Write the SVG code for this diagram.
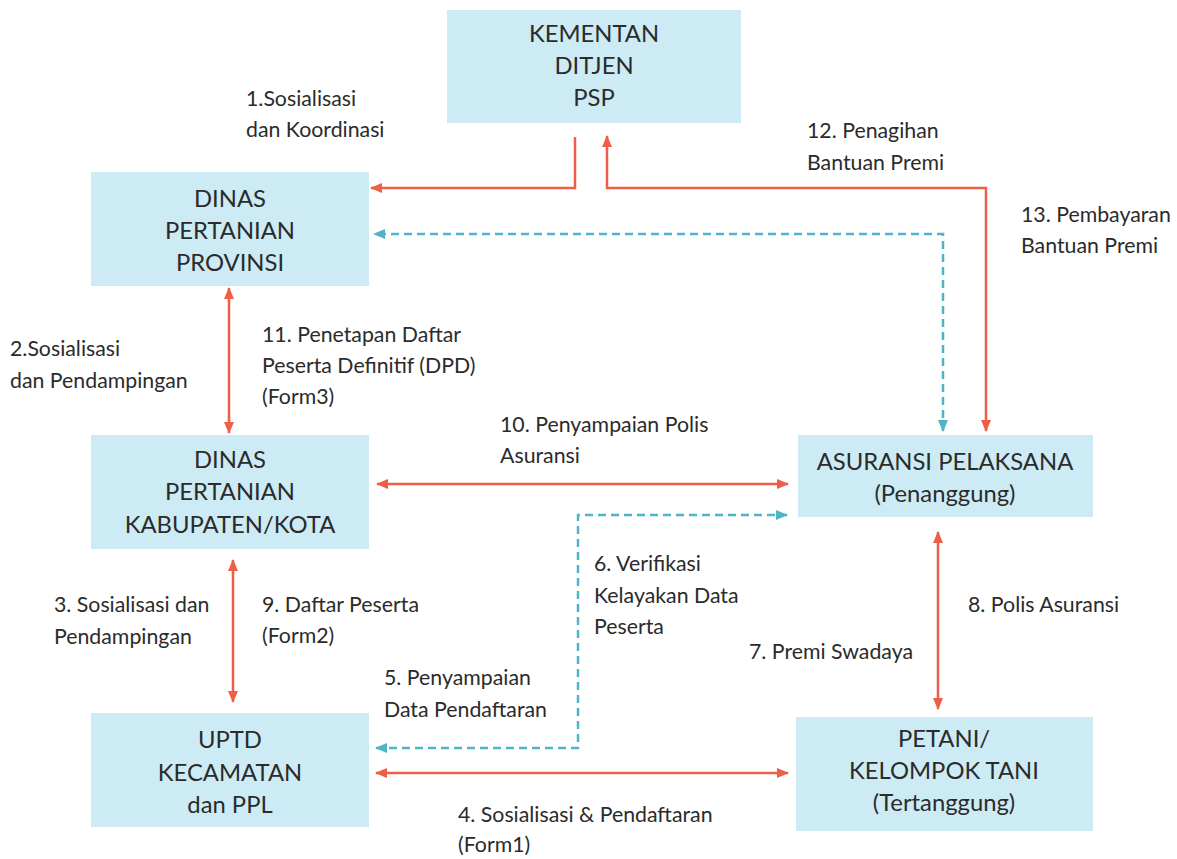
<svg xmlns="http://www.w3.org/2000/svg" width="1177" height="859" viewBox="0 0 1177 859">
<style>
.box{fill:#CDEBF5}
.bt{font-family:Lato,"Noto Sans",sans-serif;font-size:23.8px;fill:#2b2b2b;text-anchor:middle}
.lb{font-family:Lato,"Noto Sans",sans-serif;font-size:21.3px;fill:#2b2b2b}
.red{fill:none;stroke:#EF5F47;stroke-width:2.5;marker-start:url(#ar);marker-end:url(#ar)}
.red1{fill:none;stroke:#EF5F47;stroke-width:2.5;marker-end:url(#ar)}
.teal{fill:none;stroke:#4DB5C6;stroke-width:2.5;stroke-dasharray:8 5;marker-start:url(#at);marker-end:url(#at)}
</style>
<defs>
<marker id="ar" markerUnits="userSpaceOnUse" markerWidth="12" markerHeight="10" viewBox="0 0 12 10" refX="11" refY="5" orient="auto-start-reverse"><path d="M0,0 L12,5 L0,10 z" fill="#EF5F47"/></marker>
<marker id="at" markerUnits="userSpaceOnUse" markerWidth="12" markerHeight="10" viewBox="0 0 12 10" refX="11" refY="5" orient="auto-start-reverse"><path d="M0,0 L12,5 L0,10 z" fill="#4DB5C6"/></marker>
</defs>
<rect width="1177" height="859" fill="#ffffff"/>
<g id="connectors">
<path class="red1" d="M575,137 V188 H371"/>
<path class="red" d="M607,136 V188 H986 V431"/>
<path class="teal" d="M943,431 V234 H374"/>
<path class="red" d="M229,288 V433"/>
<path class="red" d="M233,560 V702"/>
<path class="red" d="M377,484 H788"/>
<path class="red" d="M376,773 H788"/>
<path class="teal" d="M376,748 H578 V515 H787"/>
<path class="red" d="M938,532 V709"/>
</g>
<g id="kementan">
<rect class="box" x="447" y="10" width="294" height="113"/>
<text class="bt" x="594" y="42">KEMENTAN</text>
<text class="bt" x="594" y="74">DITJEN</text>
<text class="bt" x="594" y="106">PSP</text>
</g>
<g id="dinas-provinsi">
<rect class="box" x="91" y="172" width="278" height="114"/>
<text class="bt" x="230" y="207">DINAS</text>
<text class="bt" x="230" y="239">PERTANIAN</text>
<text class="bt" x="230" y="271">PROVINSI</text>
</g>
<g id="dinas-kabupaten">
<rect class="box" x="91" y="435" width="278" height="114"/>
<text class="bt" x="230" y="468">DINAS</text>
<text class="bt" x="230" y="500">PERTANIAN</text>
<text class="bt" x="230" y="533">KABUPATEN/KOTA</text>
</g>
<g id="uptd">
<rect class="box" x="91" y="713" width="278" height="114"/>
<text class="bt" x="230" y="748">UPTD</text>
<text class="bt" x="230" y="781">KECAMATAN</text>
<text class="bt" x="230" y="813">dan PPL</text>
</g>
<g id="asuransi">
<rect class="box" x="798" y="435" width="295" height="82"/>
<text class="bt" x="945" y="470">ASURANSI PELAKSANA</text>
<text class="bt" x="945" y="502">(Penanggung)</text>
</g>
<g id="petani">
<rect class="box" x="796" y="717" width="297" height="114"/>
<text class="bt" x="944" y="747">PETANI/</text>
<text class="bt" x="944" y="779">KELOMPOK TANI</text>
<text class="bt" x="944" y="811">(Tertanggung)</text>
</g>
<g id="labels">
<text class="lb" x="246" y="106">1.Sosialisasi</text>
<text class="lb" x="246" y="137">dan Koordinasi</text>
<text class="lb" x="807" y="138">12. Penagihan</text>
<text class="lb" x="807" y="170">Bantuan Premi</text>
<text class="lb" x="1021" y="222">13. Pembayaran</text>
<text class="lb" x="1021" y="253">Bantuan Premi</text>
<text class="lb" x="10" y="356">2.Sosialisasi</text>
<text class="lb" x="10" y="388">dan Pendampingan</text>
<text class="lb" x="262" y="342">11. Penetapan Daftar</text>
<text class="lb" x="262" y="373">Peserta Definitif (DPD)</text>
<text class="lb" x="262" y="404">(Form3)</text>
<text class="lb" x="500" y="432">10. Penyampaian Polis</text>
<text class="lb" x="500" y="463">Asuransi</text>
<text class="lb" x="594" y="571">6. Verifikasi</text>
<text class="lb" x="594" y="603">Kelayakan Data</text>
<text class="lb" x="594" y="634">Peserta</text>
<text class="lb" x="54" y="612">3. Sosialisasi dan</text>
<text class="lb" x="54" y="644">Pendampingan</text>
<text class="lb" x="262" y="612">9. Daftar Peserta</text>
<text class="lb" x="262" y="643">(Form2)</text>
<text class="lb" x="968" y="612">8. Polis Asuransi</text>
<text class="lb" x="749" y="659">7. Premi Swadaya</text>
<text class="lb" x="384" y="685">5. Penyampaian</text>
<text class="lb" x="384" y="717">Data Pendaftaran</text>
<text class="lb" x="458" y="822">4. Sosialisasi &amp; Pendaftaran</text>
<text class="lb" x="458" y="852">(Form1)</text>
</g>
</svg>
